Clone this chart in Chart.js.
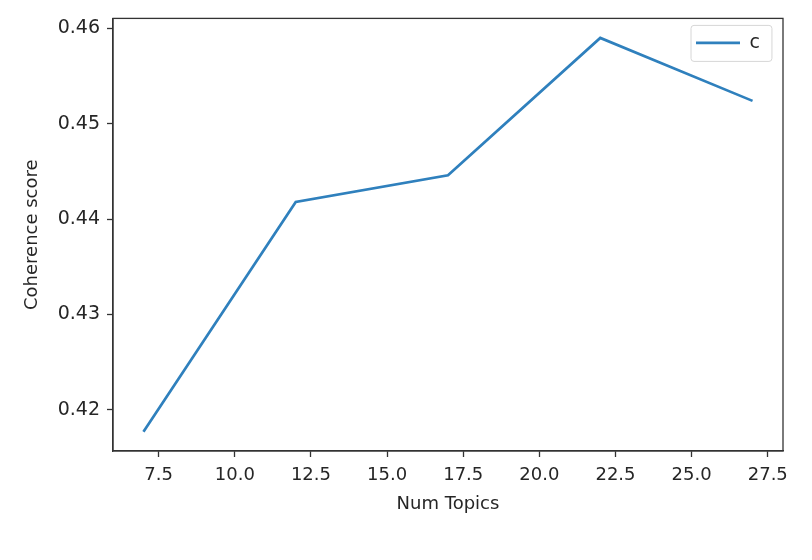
<!DOCTYPE html>
<html>
<head>
<meta charset="utf-8">
<script src="https://cdn.jsdelivr.net/npm/chart.js@4/dist/chart.umd.min.js"></script>
<style>
  html, body { margin: 0; padding: 0; background: #fff; }
  #wrap { width: 812px; height: 560px; }
</style>
</head>
<body>
<div id="wrap"><canvas id="chart" width="812" height="560"></canvas></div>
<script>
const numTopics = [7, 12, 17, 22, 27];
const coherence = [0.4177, 0.4418, 0.4446, 0.4590, 0.4524];
const xTicks = [7.5, 10, 12.5, 15, 17.5, 20, 22.5, 25, 27.5];
const yTicks = [0.42, 0.43, 0.44, 0.45, 0.46];

const axisColor = '#333333';
const textColor = '#262626';

Chart.defaults.font.family = "'DejaVu Sans', sans-serif";
Chart.defaults.font.size = 18;
Chart.defaults.color = textColor;

// frame round the plot and the legend, like matplotlib
const framePlugin = {
  id: 'frame',
  afterLayout(chart) {
    // move the legend to the top right corner of the plot
    const L = chart.legend;
    const w = L.width, h = L.height;
    L.left = chart.chartArea.right - 105;
    L.right = L.left + w;
    L.top = chart.chartArea.top - 3;
    L.bottom = L.top + h;
  },
  afterDraw(chart) {
    const { ctx, chartArea: a } = chart;
    ctx.save();
    ctx.strokeStyle = axisColor;
    ctx.lineWidth = 1.3;
    ctx.strokeRect(a.left, a.top, a.right - a.left, a.bottom - a.top);

    const boxes = chart.legend.legendHitBoxes;
    if (boxes && boxes.length) {
      const b = boxes[0];
      ctx.strokeStyle = '#d6d6d6';
      ctx.lineWidth = 1;
      ctx.beginPath();
      ctx.roundRect(b.left - 5, b.top - 8, b.width + 17, b.height + 17, 3);
      ctx.stroke();
    }
    ctx.restore();
  }
};

new Chart(document.getElementById('chart'), {
  type: 'line',
  data: {
    datasets: [{
      label: 'c',
      data: numTopics.map((t, i) => ({ x: t, y: coherence[i] })),
      borderColor: '#2f80bd',
      backgroundColor: '#2f80bd',
      borderWidth: 2.7,
      pointRadius: 0,
      tension: 0
    }]
  },
  options: {
    responsive: false,
    animation: false,
    layout: { padding: { top: 15, right: 29, left: 0, bottom: 0 } },
    plugins: {
      legend: {
        position: 'chartArea',
        align: 'start',
        labels: {
          usePointStyle: true,
          pointStyle: 'line',
          pointStyleWidth: 44,
          padding: 18,
          color: textColor,
          font: { size: 19 }
        }
      },
      tooltip: { enabled: false }
    },
    scales: {
      x: {
        type: 'linear',
        min: 6,
        max: 28,
        afterBuildTicks: s => { s.ticks = xTicks.map(v => ({ value: v })); },
        afterFit: s => { s.height = 109; },
        ticks: { callback: v => v.toFixed(1), padding: 8, maxRotation: 0, color: textColor },
        grid: { drawOnChartArea: false, drawTicks: true, tickLength: 6, tickWidth: 1.3, tickColor: axisColor },
        border: { display: true, color: axisColor, width: 1.3 },
        title: { display: true, text: 'Num Topics', color: textColor, padding: { top: 0, bottom: 45 } }
      },
      y: {
        min: 0.41568,
        max: 0.46105,
        afterBuildTicks: s => { s.ticks = yTicks.map(v => ({ value: v })); },
        afterFit: s => { s.width = 113; },
        ticks: { callback: v => v.toFixed(2), padding: 7, color: textColor, font: { size: 19 } },
        grid: { drawOnChartArea: false, drawTicks: true, tickLength: 6, tickWidth: 1.3, tickColor: axisColor },
        border: { display: true, color: axisColor, width: 1.3 },
        title: { display: true, text: 'Coherence score', color: textColor, padding: { top: 22, bottom: 0 } }
      }
    }
  },
  plugins: [framePlugin]
});
</script>
</body>
</html>
